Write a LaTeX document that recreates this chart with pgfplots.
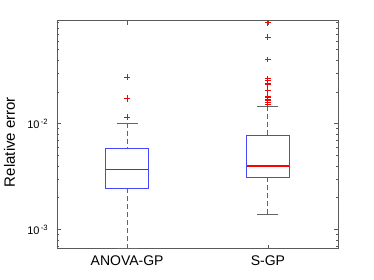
\documentclass[border=0pt]{standalone}
\usepackage{pgfplots}
\pgfplotsset{compat=1.18}
\usepgfplotslibrary{statistics}
\usepackage{fontspec}
\setmainfont{Liberation Sans}
\definecolor{boxblue}{RGB}{70,70,255}
\definecolor{medred}{RGB}{255,0,0}
\definecolor{whiskgray}{RGB}{100,100,100}
\definecolor{axgray}{RGB}{90,90,90}
\begin{document}
\begin{tikzpicture}
\path[use as bounding box] (0,0) rectangle (374pt,280pt);
\begin{axis}[
  at={(56.7pt,31.3pt)}, anchor=south west,
  scale only axis, width=281.6pt, height=228pt,
  ymin=-3.1805, ymax=-1.0278,
  xmin=0.5, xmax=2.5,
  xtick={1,2}, xticklabels={ANOVA-GP,S-GP},
  ytick={-3,-2},
  yticklabels={10\textsuperscript{\,-3},10\textsuperscript{\,-2}},
  minor ytick={-3.1549,-3.0969,-3.0458,-2.6990,-2.5229,-2.3979,-2.3010,-2.2218,-2.1549,-2.0969,-2.0458,-1.6990,-1.5229,-1.3979,-1.3010,-1.2218,-1.1549,-1.0969,-1.0458},
  tick align=inside,
  major tick length=4pt, minor tick length=2.5pt,
  axis line style={axgray},
  every tick/.style={axgray},
  tick label style={font=\fontsize{14}{16}\selectfont, text=black},
  yticklabel style={font=\fontsize{11}{13}\selectfont, xshift=-5pt},
  xticklabel style={yshift=-3pt},
  ylabel={Relative error},
  ylabel style={font=\fontsize{15}{17}\selectfont, at={(axis description cs:-0.168,0.468)}, anchor=center},
  boxplot/draw direction=y,
  boxplot/draw/lower whisker/.code={%
    \draw[whiskgray, line width=0.9pt, dash pattern=on 5pt off 3pt]
      (boxplot box cs:\pgfplotsboxplotvalue{lower whisker},0.5)
      -- (boxplot box cs:\pgfplotsboxplotvalue{lower quartile},0.5);
    \draw[whiskgray, line width=0.9pt]
      (boxplot whisker cs:\pgfplotsboxplotvalue{lower whisker},0)
      -- (boxplot whisker cs:\pgfplotsboxplotvalue{lower whisker},1);
  },
  boxplot/draw/upper whisker/.code={%
    \draw[whiskgray, line width=0.9pt, dash pattern=on 5pt off 3pt]
      (boxplot box cs:\pgfplotsboxplotvalue{upper whisker},0.5)
      -- (boxplot box cs:\pgfplotsboxplotvalue{upper quartile},0.5);
    \draw[whiskgray, line width=0.9pt]
      (boxplot whisker cs:\pgfplotsboxplotvalue{upper whisker},0)
      -- (boxplot whisker cs:\pgfplotsboxplotvalue{upper whisker},1);
  },
  boxplot/draw/box/.code={%
    \draw[boxblue, line width=1pt]
      (boxplot box cs:\pgfplotsboxplotvalue{lower quartile},0)
      rectangle (boxplot box cs:\pgfplotsboxplotvalue{upper quartile},1);
  },
  boxplot/draw/median/.code={%
    \draw[medred, line width=1.2pt]
      (boxplot box cs:\pgfplotsboxplotvalue{median},0)
      -- (boxplot box cs:\pgfplotsboxplotvalue{median},1);
  },
]
% values are log10 of the relative error
\addplot[mark=+, mark size=2.8pt, draw=red, mark options={draw=red, solid, line width=1pt},
  boxplot prepared={draw position=1, median=-2.4306, lower quartile=-2.6091,
    upper quartile=-2.2321, lower whisker=-3.1791, upper whisker=-1.9935,
    box extend=0.3, whisker extend=0.15}]
  table[row sep=\\, y index=0] {-1.5622\\ -1.7645\\ -1.7595\\ -1.9397\\};
\addplot[mark=+, mark size=2.8pt, draw=red, mark options={draw=red, solid, line width=1pt},
  boxplot prepared={draw position=2, median=-2.3990, lower quartile=-2.5114,
    upper quartile=-2.1135, lower whisker=-2.8539, upper whisker=-1.8330,
    box extend=0.3, whisker extend=0.15}]
  table[row sep=\\, y index=0] {-1.0472\\ -1.1818\\ -1.3925\\ -1.5751\\ -1.5935\\ -1.6198\\ -1.6345\\ -1.6861\\ -1.7399\\ -1.7545\\ -1.7696\\ -1.7852\\ -1.8013\\ -1.8153\\};
\end{axis}
\end{tikzpicture}
\end{document}
